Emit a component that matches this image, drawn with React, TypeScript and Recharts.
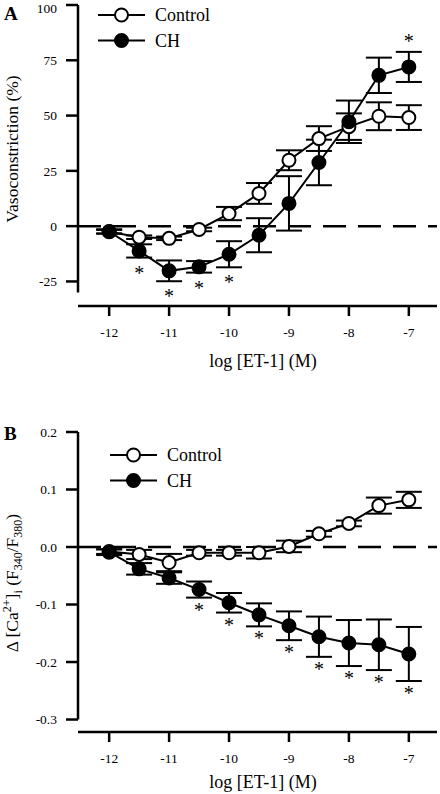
import React from 'react';
import {
  ComposedChart,
  Line,
  Scatter,
  XAxis,
  YAxis,
  ErrorBar,
  ReferenceLine,
  Customized
} from 'recharts';

const FONT = '"Liberation Serif", "Times New Roman", serif';

// shared x values: log [ET-1] (M)
const doses = [-12, -11.5, -11, -10.5, -10, -9.5, -9, -8.5, -8, -7.5, -7];
const xTicks = [-12, -11, -10, -9, -8, -7];
const xDomain: [number, number] = [-12.52, -6.53];
const seriesNames = ['Control', 'CH'];

// panel A - vasoconstriction (%)
const vasoControl = [-2.5, -5, -5.5, -1.5, 5.7, 14.8, 29.8, 39.6, 45, 49.7, 49.1];
const vasoControlSem = [0.8, 0.8, 0.8, 0.8, 3, 4.7, 4.5, 5.6, 6, 6.3, 5.6];
const vasoCH = [-2.4, -11.2, -20.2, -18.4, -12.7, -4.1, 10.3, 28.8, 47.2, 68.2, 72];
const vasoCHSem = [1, 3, 4.7, 2.6, 5.9, 7.7, 12.3, 10.3, 9.6, 8, 6.8];
const vasoSig = [0, 1, 1, 1, 1, 0, 0, 0, 0, 0, 1];
const vasoTicks = [-25, 0, 25, 50, 75, 100];

// panel B - delta [Ca2+]i (F340/F380)
const caControl = [-0.008, -0.013, -0.027, -0.01, -0.01, -0.01, 0.001, 0.023, 0.041, 0.072, 0.082];
const caControlSem = [0.004, 0.008, 0.015, 0.005, 0.005, 0.01, 0.01, 0.005, 0.005, 0.014, 0.014];
const caCH = [-0.009, -0.038, -0.054, -0.074, -0.097, -0.118, -0.137, -0.156, -0.167, -0.17, -0.186];
const caCHSem = [0.005, 0.01, 0.01, 0.014, 0.017, 0.02, 0.025, 0.035, 0.04, 0.044, 0.047];
const caSig = [0, 0, 0, 1, 1, 1, 1, 1, 1, 1, 1];
const caTicks = [-0.3, -0.2, -0.1, 0, 0.1, 0.2];

const StarMark = (props: any) => {
  const { cx, cy, payload, gap } = props;
  if (cx == null || cy == null) return null;
  // asterisk glyph sits high in the em box, so push baseline down a bit
  const y = payload.up ? cy - gap + 9 : cy + gap + 9;
  return (
    <text x={cx} y={y} textAnchor="middle" fontSize={20} fontFamily={FONT} fill="#000">
      *
    </text>
  );
};

interface PanelProps {
  letter: string;
  height: number;
  margin: { top: number; right: number; bottom: number; left: number };
  domain: [number, number];
  ticks: number[];
  axisFrom: number;
  fmt: (v: number) => string;
  control: number[];
  controlSem: number[];
  ch: number[];
  chSem: number[];
  sig: number[];
  starGap: number;
  letterY: number;
  legendX: number;
  legendY: number;
  yLabel: React.ReactNode;
  yLabelY: number;
  xLabelY: number;
}

const Panel: React.FC<PanelProps> = (p) => {
  const rows = doses.map((x, i) => ({
    x,
    ctrl: p.control[i],
    ctrlErr: p.controlSem[i],
    ch: p.ch[i],
    chErr: p.chSem[i]
  }));

  const stars = doses
    .map((x, i) => {
      const up = p.ch[i] > p.control[i];
      return { x, up, sig: p.sig[i], star: up ? p.ch[i] + p.chSem[i] : p.ch[i] - p.chSem[i] };
    })
    .filter((d) => d.sig);

  const decorations = (
    <g>
      <text x={4} y={p.letterY} fontSize={19} fontWeight="bold" fontFamily={FONT} fill="#000">
        {p.letter}
      </text>
      {seriesNames.map((name, i) => {
        const y = p.legendY + i * 25.5;
        return (
          <g key={name}>
            <line x1={p.legendX} x2={p.legendX + 47} y1={y} y2={y} stroke="#000" strokeWidth={2} />
            <circle
              cx={p.legendX + 23.5}
              cy={y}
              r={6.5}
              fill={i === 0 ? '#fff' : '#000'}
              stroke="#000"
              strokeWidth={2}
            />
            <text x={p.legendX + 57} y={y + 6} fontSize={18} fontFamily={FONT} fill="#000">
              {name}
            </text>
          </g>
        );
      })}
      <text
        transform={`translate(18, ${p.yLabelY}) rotate(-90)`}
        textAnchor="middle"
        fontSize={17.5}
        fontFamily={FONT}
        fill="#000"
      >
        {p.yLabel}
      </text>
      <text x={263} y={p.xLabelY} textAnchor="middle" fontSize={18} fontFamily={FONT} fill="#000">
        log [ET-1] (M)
      </text>
    </g>
  );

  return (
    <ComposedChart width={440} height={p.height} data={rows} margin={p.margin}>
      <XAxis
        dataKey="x"
        type="number"
        domain={xDomain}
        ticks={xTicks}
        allowDataOverflow
        axisLine={{ stroke: '#000', strokeWidth: 2.5 }}
        tickLine={{ stroke: '#000', strokeWidth: 2.5 }}
        tickSize={10}
        tickMargin={11}
        tick={{ fill: '#000', fontSize: 13.5, fontFamily: FONT }}
        height={50}
      />
      <YAxis
        type="number"
        domain={p.domain}
        ticks={p.ticks}
        allowDataOverflow
        axisLine={false}
        tickLine={{ stroke: '#000', strokeWidth: 2.5 }}
        tickSize={12}
        tickMargin={9}
        tickFormatter={p.fmt}
        tick={{ fill: '#000', fontSize: 13.5, fontFamily: FONT }}
        width={60}
      />
      {/* y axis stops short of the detached x axis */}
      <ReferenceLine
        segment={[
          { x: xDomain[0], y: p.axisFrom },
          { x: xDomain[0], y: p.ticks[p.ticks.length - 1] }
        ]}
        stroke="#000"
        strokeWidth={2.5}
        ifOverflow="visible"
      />
      <ReferenceLine y={0} stroke="#000" strokeWidth={2.5} strokeDasharray="23 12" />
      <Line
        dataKey="ctrl"
        stroke="#000"
        strokeWidth={2}
        dot={{ r: 6.5, fill: '#fff', stroke: '#000', strokeWidth: 2 }}
        activeDot={false}
        isAnimationActive={false}
      >
        <ErrorBar dataKey="ctrlErr" width={13} stroke="#000" strokeWidth={2} direction="y" />
      </Line>
      <Line
        dataKey="ch"
        stroke="#000"
        strokeWidth={2}
        dot={{ r: 6.5, fill: '#000', stroke: '#000', strokeWidth: 2 }}
        activeDot={false}
        isAnimationActive={false}
      >
        <ErrorBar dataKey="chErr" width={13} stroke="#000" strokeWidth={2} direction="y" />
      </Line>
      <Scatter
        data={stars}
        dataKey="star"
        isAnimationActive={false}
        shape={(s: any) => <StarMark {...s} gap={p.starGap} />}
      />
      <Customized component={decorations} />
    </ComposedChart>
  );
};

const caLabel = (
  <>
    <tspan>Δ [Ca</tspan>
    <tspan dy={-7} fontSize={12}>2+</tspan>
    <tspan dy={7}>]</tspan>
    <tspan dy={4} fontSize={12}>i</tspan>
    <tspan dy={-4}> (F</tspan>
    <tspan dy={4} fontSize={12}>340</tspan>
    <tspan dy={-4}>/F</tspan>
    <tspan dy={4} fontSize={12}>380</tspan>
    <tspan dy={-4}>)</tspan>
  </>
);

export default function App() {
  return (
    <div style={{ position: 'absolute', left: 0, top: 0, width: 440, height: 794, background: '#fff' }}>
      <Panel
        letter="A"
        height={390}
        margin={{ top: 5, right: 3, bottom: 34, left: 18 }}
        domain={[-36.1, 100]}
        ticks={vasoTicks}
        axisFrom={-30}
        fmt={(v) => String(v)}
        control={vasoControl}
        controlSem={vasoControlSem}
        ch={vasoCH}
        chSem={vasoCHSem}
        sig={vasoSig}
        starGap={13}
        letterY={20}
        legendX={98}
        legendY={15}
        yLabel="Vasoconstriction (%)"
        yLabelY={149}
        xLabelY={367}
      />
      <Panel
        letter="B"
        height={404}
        margin={{ top: 42, right: 3, bottom: 12, left: 18 }}
        domain={[-0.3217, 0.2]}
        ticks={caTicks}
        axisFrom={-0.3}
        fmt={(v) => v.toFixed(1)}
        control={caControl}
        controlSem={caControlSem}
        ch={caCH}
        chSem={caCHSem}
        sig={caSig}
        starGap={10}
        letterY={50}
        legendX={110}
        legendY={65}
        yLabel={caLabel}
        yLabelY={193}
        xLabelY={398}
      />
    </div>
  );
}
